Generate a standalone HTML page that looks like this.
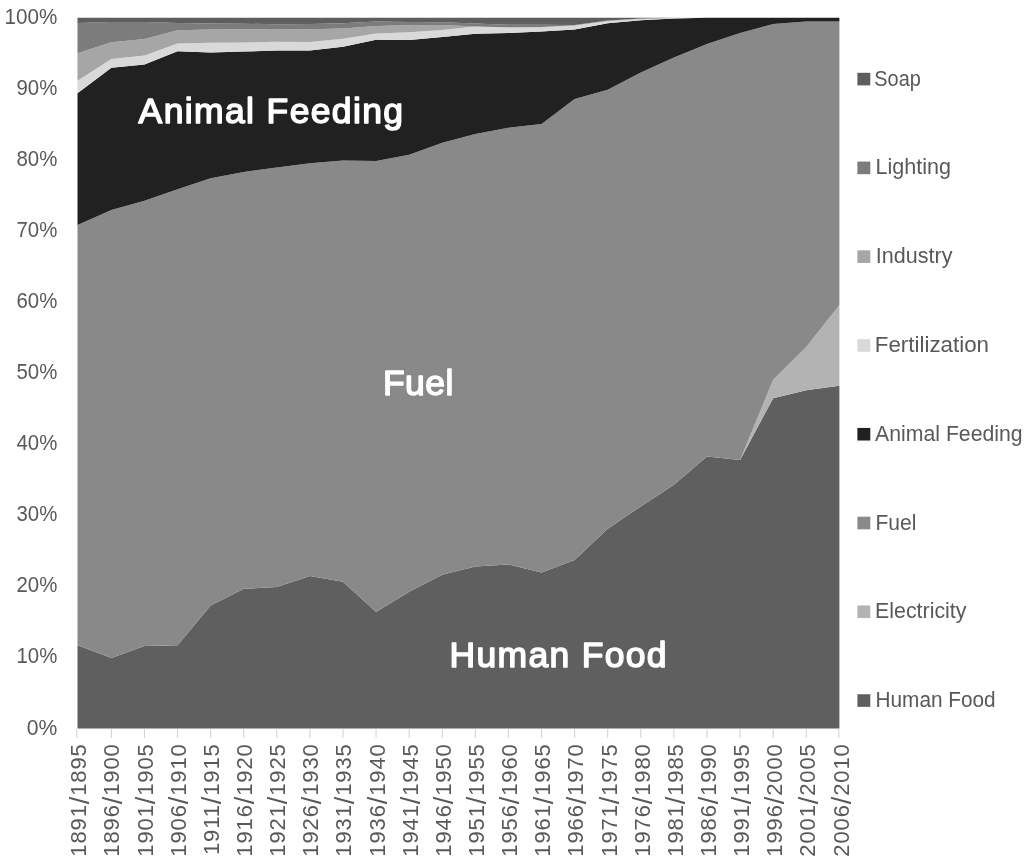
<!DOCTYPE html>
<html><head><meta charset="utf-8"><style>
html,body{margin:0;padding:0;background:#fff;}
body{width:1024px;height:866px;overflow:hidden;}
svg{display:block;font-family:"Liberation Sans",sans-serif;will-change:transform;}
</style></head><body>
<svg width="1024" height="866" viewBox="0 0 1024 866">
<rect x="0" y="0" width="1024" height="866" fill="#fff"/>
<g>
<path d="M77.5 645.3 L111.39 658.1 L144.48 646.1 L177.57 645.3 L210.66 605.4 L243.75 588.8 L276.83 587.1 L309.92 576 L343.01 581.8 L376.1 612.1 L409.19 591.8 L442.28 574.8 L475.37 566.4 L508.46 564.6 L541.55 572.5 L574.63 560 L607.72 528.8 L640.81 506.4 L673.9 484.8 L706.99 456.6 L740.08 460 L773.17 398.2 L806.26 390.3 L839.4 385.7 L839.4 728.5 L806.26 728.5 L773.17 728.5 L740.08 728.5 L706.99 728.5 L673.9 728.5 L640.81 728.5 L607.72 728.5 L574.63 728.5 L541.55 728.5 L508.46 728.5 L475.37 728.5 L442.28 728.5 L409.19 728.5 L376.1 728.5 L343.01 728.5 L309.92 728.5 L276.83 728.5 L243.75 728.5 L210.66 728.5 L177.57 728.5 L144.48 728.5 L111.39 728.5 L77.5 728.5 Z" fill="#5f5f5f"/>
<path d="M77.5 645.3 L111.39 658.1 L144.48 646.1 L177.57 645.3 L210.66 605.4 L243.75 588.8 L276.83 587.1 L309.92 576 L343.01 581.8 L376.1 612.1 L409.19 591.8 L442.28 574.8 L475.37 566.4 L508.46 564.6 L541.55 572.5 L574.63 560 L607.72 528.8 L640.81 506.4 L673.9 484.8 L706.99 456.6 L740.08 460 L773.17 379.7 L806.26 346.9 L839.4 304.9 L839.4 385.7 L806.26 390.3 L773.17 398.2 L740.08 460 L706.99 456.6 L673.9 484.8 L640.81 506.4 L607.72 528.8 L574.63 560 L541.55 572.5 L508.46 564.6 L475.37 566.4 L442.28 574.8 L409.19 591.8 L376.1 612.1 L343.01 581.8 L309.92 576 L276.83 587.1 L243.75 588.8 L210.66 605.4 L177.57 645.3 L144.48 646.1 L111.39 658.1 L77.5 645.3 Z" fill="#b3b3b3"/>
<path d="M77.5 224.9 L111.39 210.1 L144.48 200.8 L177.57 189.2 L210.66 178.3 L243.75 171.9 L276.83 167.6 L309.92 163.2 L343.01 160.6 L376.1 161.1 L409.19 154.8 L442.28 142.7 L475.37 133.9 L508.46 127.8 L541.55 124 L574.63 99 L607.72 89.8 L640.81 72.4 L673.9 57.5 L706.99 44 L740.08 32.9 L773.17 24 L806.26 21.6 L839.4 21.5 L839.4 304.9 L806.26 346.9 L773.17 379.7 L740.08 460 L706.99 456.6 L673.9 484.8 L640.81 506.4 L607.72 528.8 L574.63 560 L541.55 572.5 L508.46 564.6 L475.37 566.4 L442.28 574.8 L409.19 591.8 L376.1 612.1 L343.01 581.8 L309.92 576 L276.83 587.1 L243.75 588.8 L210.66 605.4 L177.57 645.3 L144.48 646.1 L111.39 658.1 L77.5 645.3 Z" fill="#898989"/>
<path d="M77.5 93.2 L111.39 67.8 L144.48 64.6 L177.57 51.3 L210.66 52.5 L243.75 51.6 L276.83 50.5 L309.92 50.6 L343.01 46.8 L376.1 39.8 L409.19 40.1 L442.28 36.9 L475.37 33.8 L508.46 32.9 L541.55 31.6 L574.63 29.6 L607.72 23.2 L640.81 20.2 L673.9 18.6 L706.99 17.7 L740.08 17.7 L773.17 17.7 L806.26 17.7 L839.4 17.7 L839.4 21.5 L806.26 21.6 L773.17 24 L740.08 32.9 L706.99 44 L673.9 57.5 L640.81 72.4 L607.72 89.8 L574.63 99 L541.55 124 L508.46 127.8 L475.37 133.9 L442.28 142.7 L409.19 154.8 L376.1 161.1 L343.01 160.6 L309.92 163.2 L276.83 167.6 L243.75 171.9 L210.66 178.3 L177.57 189.2 L144.48 200.8 L111.39 210.1 L77.5 224.9 Z" fill="#212121"/>
<path d="M77.5 80.8 L111.39 58.9 L144.48 55.6 L177.57 43.6 L210.66 42.8 L243.75 42.4 L276.83 41.7 L309.92 41.9 L343.01 38.8 L376.1 33.5 L409.19 32.2 L442.28 29.9 L475.37 26.6 L508.46 27.5 L541.55 27.2 L574.63 25.4 L607.72 20.9 L640.81 19 L673.9 17.9 L706.99 17.7 L740.08 17.7 L773.17 17.7 L806.26 17.7 L839.4 17.7 L839.4 17.7 L806.26 17.7 L773.17 17.7 L740.08 17.7 L706.99 17.7 L673.9 18.6 L640.81 20.2 L607.72 23.2 L574.63 29.6 L541.55 31.6 L508.46 32.9 L475.37 33.8 L442.28 36.9 L409.19 40.1 L376.1 39.8 L343.01 46.8 L309.92 50.6 L276.83 50.5 L243.75 51.6 L210.66 52.5 L177.57 51.3 L144.48 64.6 L111.39 67.8 L77.5 93.2 Z" fill="#d9d9d9"/>
<path d="M77.5 53.3 L111.39 42.3 L144.48 38.9 L177.57 30.3 L210.66 29.5 L243.75 29.2 L276.83 29.4 L309.92 29.2 L343.01 28.4 L376.1 25.9 L409.19 25.2 L442.28 25 L475.37 26.4 L508.46 27.3 L541.55 27 L574.63 25.2 L607.72 20.7 L640.81 18.8 L673.9 17.8 L706.99 17.7 L740.08 17.7 L773.17 17.7 L806.26 17.7 L839.4 17.7 L839.4 17.7 L806.26 17.7 L773.17 17.7 L740.08 17.7 L706.99 17.7 L673.9 17.9 L640.81 19 L607.72 20.9 L574.63 25.4 L541.55 27.2 L508.46 27.5 L475.37 26.6 L442.28 29.9 L409.19 32.2 L376.1 33.5 L343.01 38.8 L309.92 41.9 L276.83 41.7 L243.75 42.4 L210.66 42.8 L177.57 43.6 L144.48 55.6 L111.39 58.9 L77.5 80.8 Z" fill="#a6a6a6"/>
<path d="M77.5 22.9 L111.39 21.9 L144.48 22 L177.57 23 L210.66 23.6 L243.75 23.7 L276.83 24.2 L309.92 24 L343.01 23.3 L376.1 21.6 L409.19 22 L442.28 22.3 L475.37 23.5 L508.46 24.7 L541.55 24.7 L574.63 25 L607.72 20.5 L640.81 18.6 L673.9 17.7 L706.99 17.7 L740.08 17.7 L773.17 17.7 L806.26 17.7 L839.4 17.7 L839.4 17.7 L806.26 17.7 L773.17 17.7 L740.08 17.7 L706.99 17.7 L673.9 17.8 L640.81 18.8 L607.72 20.7 L574.63 25.2 L541.55 27 L508.46 27.3 L475.37 26.4 L442.28 25 L409.19 25.2 L376.1 25.9 L343.01 28.4 L309.92 29.2 L276.83 29.4 L243.75 29.2 L210.66 29.5 L177.57 30.3 L144.48 38.9 L111.39 42.3 L77.5 53.3 Z" fill="#7c7c7c"/>
<path d="M77.5 17.7 L111.39 17.7 L144.48 17.7 L177.57 17.7 L210.66 17.7 L243.75 17.7 L276.83 17.7 L309.92 17.7 L343.01 17.7 L376.1 17.7 L409.19 17.7 L442.28 17.7 L475.37 17.7 L508.46 17.7 L541.55 17.7 L574.63 17.7 L607.72 17.7 L640.81 17.7 L673.9 17.7 L706.99 17.7 L740.08 17.7 L773.17 17.7 L806.26 17.7 L839.4 17.7 L839.4 17.7 L806.26 17.7 L773.17 17.7 L740.08 17.7 L706.99 17.7 L673.9 17.7 L640.81 18.6 L607.72 20.5 L574.63 25 L541.55 24.7 L508.46 24.7 L475.37 23.5 L442.28 22.3 L409.19 22 L376.1 21.6 L343.01 23.3 L309.92 24 L276.83 24.2 L243.75 23.7 L210.66 23.6 L177.57 23 L144.48 22 L111.39 21.9 L77.5 22.9 Z" fill="#5e5e5e"/>
</g>
<g stroke="#d0d0d0" stroke-width="1">
<path d="M76.8 728.8 V737.8" />
<path d="M111.39 728.8 V737.8" />
<path d="M144.48 728.8 V737.8" />
<path d="M177.57 728.8 V737.8" />
<path d="M210.66 728.8 V737.8" />
<path d="M243.75 728.8 V737.8" />
<path d="M276.83 728.8 V737.8" />
<path d="M309.92 728.8 V737.8" />
<path d="M343.01 728.8 V737.8" />
<path d="M376.1 728.8 V737.8" />
<path d="M409.19 728.8 V737.8" />
<path d="M442.28 728.8 V737.8" />
<path d="M475.37 728.8 V737.8" />
<path d="M508.46 728.8 V737.8" />
<path d="M541.55 728.8 V737.8" />
<path d="M574.63 728.8 V737.8" />
<path d="M607.72 728.8 V737.8" />
<path d="M640.81 728.8 V737.8" />
<path d="M673.9 728.8 V737.8" />
<path d="M706.99 728.8 V737.8" />
<path d="M740.08 728.8 V737.8" />
<path d="M773.17 728.8 V737.8" />
<path d="M806.26 728.8 V737.8" />
<path d="M838.8 728.8 V737.8" />
</g>
<g fill="#595959" font-size="21.5px">
<text x="57.3" y="23.7" text-anchor="end" textLength="52.8" lengthAdjust="spacingAndGlyphs">100%</text>
<text x="57.3" y="94.78" text-anchor="end" textLength="40.8" lengthAdjust="spacingAndGlyphs">90%</text>
<text x="57.3" y="165.86" text-anchor="end" textLength="40.8" lengthAdjust="spacingAndGlyphs">80%</text>
<text x="57.3" y="236.94" text-anchor="end" textLength="40.8" lengthAdjust="spacingAndGlyphs">70%</text>
<text x="57.3" y="308.02" text-anchor="end" textLength="40.8" lengthAdjust="spacingAndGlyphs">60%</text>
<text x="57.3" y="379.1" text-anchor="end" textLength="40.8" lengthAdjust="spacingAndGlyphs">50%</text>
<text x="57.3" y="450.18" text-anchor="end" textLength="40.8" lengthAdjust="spacingAndGlyphs">40%</text>
<text x="57.3" y="521.26" text-anchor="end" textLength="40.8" lengthAdjust="spacingAndGlyphs">30%</text>
<text x="57.3" y="592.34" text-anchor="end" textLength="40.8" lengthAdjust="spacingAndGlyphs">20%</text>
<text x="57.3" y="663.42" text-anchor="end" textLength="40.8" lengthAdjust="spacingAndGlyphs">10%</text>
<text x="57.3" y="734.5" text-anchor="end" textLength="30.6" lengthAdjust="spacingAndGlyphs">0%</text>
</g>
<g fill="#595959" font-size="22px" letter-spacing="0.88px">
<text transform="translate(86.35 743.3) rotate(-90)" text-anchor="end">1891<tspan font-size="27px" dy="2.2">/</tspan><tspan dy="-2.2">1895</tspan></text>
<text transform="translate(119.49 743.3) rotate(-90)" text-anchor="end">1896<tspan font-size="27px" dy="2.2">/</tspan><tspan dy="-2.2">1900</tspan></text>
<text transform="translate(152.63 743.3) rotate(-90)" text-anchor="end">1901<tspan font-size="27px" dy="2.2">/</tspan><tspan dy="-2.2">1905</tspan></text>
<text transform="translate(185.77 743.3) rotate(-90)" text-anchor="end">1906<tspan font-size="27px" dy="2.2">/</tspan><tspan dy="-2.2">1910</tspan></text>
<text transform="translate(218.91 743.3) rotate(-90)" text-anchor="end">1911<tspan font-size="27px" dy="2.2">/</tspan><tspan dy="-2.2">1915</tspan></text>
<text transform="translate(252.05 743.3) rotate(-90)" text-anchor="end">1916<tspan font-size="27px" dy="2.2">/</tspan><tspan dy="-2.2">1920</tspan></text>
<text transform="translate(285.19 743.3) rotate(-90)" text-anchor="end">1921<tspan font-size="27px" dy="2.2">/</tspan><tspan dy="-2.2">1925</tspan></text>
<text transform="translate(318.33 743.3) rotate(-90)" text-anchor="end">1926<tspan font-size="27px" dy="2.2">/</tspan><tspan dy="-2.2">1930</tspan></text>
<text transform="translate(351.47 743.3) rotate(-90)" text-anchor="end">1931<tspan font-size="27px" dy="2.2">/</tspan><tspan dy="-2.2">1935</tspan></text>
<text transform="translate(384.61 743.3) rotate(-90)" text-anchor="end">1936<tspan font-size="27px" dy="2.2">/</tspan><tspan dy="-2.2">1940</tspan></text>
<text transform="translate(417.75 743.3) rotate(-90)" text-anchor="end">1941<tspan font-size="27px" dy="2.2">/</tspan><tspan dy="-2.2">1945</tspan></text>
<text transform="translate(450.89 743.3) rotate(-90)" text-anchor="end">1946<tspan font-size="27px" dy="2.2">/</tspan><tspan dy="-2.2">1950</tspan></text>
<text transform="translate(484.03 743.3) rotate(-90)" text-anchor="end">1951<tspan font-size="27px" dy="2.2">/</tspan><tspan dy="-2.2">1955</tspan></text>
<text transform="translate(517.17 743.3) rotate(-90)" text-anchor="end">1956<tspan font-size="27px" dy="2.2">/</tspan><tspan dy="-2.2">1960</tspan></text>
<text transform="translate(550.31 743.3) rotate(-90)" text-anchor="end">1961<tspan font-size="27px" dy="2.2">/</tspan><tspan dy="-2.2">1965</tspan></text>
<text transform="translate(583.45 743.3) rotate(-90)" text-anchor="end">1966<tspan font-size="27px" dy="2.2">/</tspan><tspan dy="-2.2">1970</tspan></text>
<text transform="translate(616.59 743.3) rotate(-90)" text-anchor="end">1971<tspan font-size="27px" dy="2.2">/</tspan><tspan dy="-2.2">1975</tspan></text>
<text transform="translate(649.73 743.3) rotate(-90)" text-anchor="end">1976<tspan font-size="27px" dy="2.2">/</tspan><tspan dy="-2.2">1980</tspan></text>
<text transform="translate(682.87 743.3) rotate(-90)" text-anchor="end">1981<tspan font-size="27px" dy="2.2">/</tspan><tspan dy="-2.2">1985</tspan></text>
<text transform="translate(716.01 743.3) rotate(-90)" text-anchor="end">1986<tspan font-size="27px" dy="2.2">/</tspan><tspan dy="-2.2">1990</tspan></text>
<text transform="translate(749.15 743.3) rotate(-90)" text-anchor="end">1991<tspan font-size="27px" dy="2.2">/</tspan><tspan dy="-2.2">1995</tspan></text>
<text transform="translate(782.29 743.3) rotate(-90)" text-anchor="end">1996<tspan font-size="27px" dy="2.2">/</tspan><tspan dy="-2.2">2000</tspan></text>
<text transform="translate(815.43 743.3) rotate(-90)" text-anchor="end">2001<tspan font-size="27px" dy="2.2">/</tspan><tspan dy="-2.2">2005</tspan></text>
<text transform="translate(848.57 743.3) rotate(-90)" text-anchor="end">2006<tspan font-size="27px" dy="2.2">/</tspan><tspan dy="-2.2">2010</tspan></text>
</g>
<g font-size="21.6px" fill="#595959">
<rect x="857.4" y="72.8" width="12.9" height="12.6" fill="#5e5e5e"/>
<text x="874.3" y="85.6" textLength="46.5" lengthAdjust="spacingAndGlyphs">Soap</text>
<rect x="857.4" y="161.58" width="12.9" height="12.6" fill="#7c7c7c"/>
<text x="875.5" y="174.38" textLength="75.5" lengthAdjust="spacingAndGlyphs">Lighting</text>
<rect x="857.4" y="250.36" width="12.9" height="12.6" fill="#a6a6a6"/>
<text x="875.8" y="263.16" textLength="76.6" lengthAdjust="spacingAndGlyphs">Industry</text>
<rect x="857.4" y="339.14" width="12.9" height="12.6" fill="#d9d9d9"/>
<text x="874.8" y="351.94" textLength="114.2" lengthAdjust="spacingAndGlyphs">Fertilization</text>
<rect x="857.4" y="427.92" width="12.9" height="12.6" fill="#212121"/>
<text x="875" y="440.72" textLength="147.7" lengthAdjust="spacingAndGlyphs">Animal Feeding</text>
<rect x="857.4" y="516.7" width="12.9" height="12.6" fill="#898989"/>
<text x="875.5" y="529.5" textLength="40.9" lengthAdjust="spacingAndGlyphs">Fuel</text>
<rect x="857.4" y="605.48" width="12.9" height="12.6" fill="#b3b3b3"/>
<text x="875.1" y="618.28" textLength="91.3" lengthAdjust="spacingAndGlyphs">Electricity</text>
<rect x="857.4" y="694.26" width="12.9" height="12.6" fill="#5f5f5f"/>
<text x="875.5" y="707.06" textLength="120.2" lengthAdjust="spacingAndGlyphs">Human Food</text>
</g>
<g fill="#ffffff" stroke="#ffffff" stroke-width="1.5" stroke-linejoin="round" font-size="35.5px">
<text x="138.6" y="122.6" textLength="264.5" lengthAdjust="spacing">Animal Feeding</text>
<text x="382.9" y="394.6" textLength="70.4" lengthAdjust="spacing">Fuel</text>
<text x="449.5" y="667.2" textLength="217" lengthAdjust="spacing">Human Food</text>
</g>
</svg>
</body></html>
